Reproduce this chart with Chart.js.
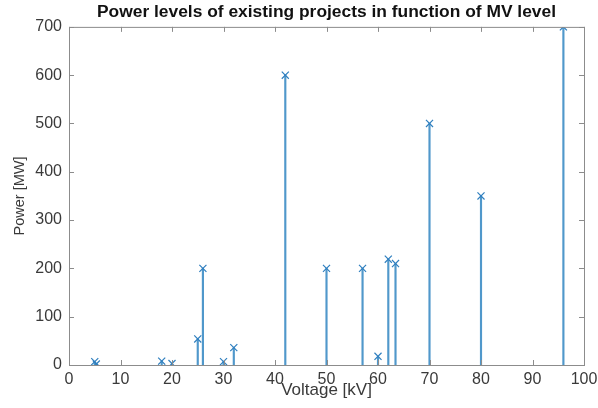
<!DOCTYPE html>
<html>
<head>
<meta charset="utf-8">
<script src="https://cdn.jsdelivr.net/npm/chart.js@4"></script>
<style>
  html, body { margin: 0; padding: 0; background: #fff; }
  #wrap { width: 598px; height: 408px; }
</style>
</head>
<body>
<div id="wrap"><canvas id="grafico" width="598" height="408"></canvas></div>
<script>
// voltage [kV] and power [MW] of each project
const voltagem = [5, 5.3, 18, 20, 25, 26, 30, 32, 42, 50, 57, 60, 62, 63.4, 70, 80, 96];
const potencia = [7, 2, 8, 3, 54, 200, 7, 36, 600, 200, 200, 18, 219, 210, 500, 350, 700];
const ticksX = [0, 100, 10];   // min, max, step
const ticksY = [0, 700, 100];

const pontos = voltagem.map((v, i) => ({ x: v, y: potencia[i] }));

const azul = '#2f7fbf';
const fonte = 'Liberation Sans, Arial, sans-serif';

// box around the plot with inward ticks, like matlab
const caixa = {
  id: 'caixa',
  afterDraw(chart) {
    const { ctx, chartArea: a, scales } = chart;
    ctx.save();
    ctx.strokeStyle = '#8c8c8c';
    ctx.lineWidth = 1;
    ctx.strokeRect(a.left + 0.5, a.top + 0.5, a.right - a.left, a.bottom - a.top);
    ctx.beginPath();
    scales.x.ticks.forEach(t => {
      const px = Math.round(scales.x.getPixelForValue(t.value)) + 0.5;
      ctx.moveTo(px, a.bottom); ctx.lineTo(px, a.bottom - 5);
      ctx.moveTo(px, a.top); ctx.lineTo(px, a.top + 5);
    });
    scales.y.ticks.forEach(t => {
      const py = Math.round(scales.y.getPixelForValue(t.value)) + 0.5;
      ctx.moveTo(a.left, py); ctx.lineTo(a.left + 5, py);
      ctx.moveTo(a.right, py); ctx.lineTo(a.right - 5, py);
    });
    ctx.stroke();
    ctx.restore();
  }
};

const ctx = document.getElementById("grafico").getContext("2d");
const chart = new Chart(ctx, {
  type: 'scatter',
  data: {
    datasets: [{
      type: 'bar',
      data: pontos,
      backgroundColor: '#5098cb',
      barThickness: 1.5,
      borderWidth: 0,
      order: 2
    }, {
      type: 'scatter',
      data: pontos,
      pointStyle: 'crossRot',
      pointRadius: 5,
      borderColor: azul,
      borderWidth: 1.2,
      order: 1
    }]
  },
  options: {
    responsive: false,
    animation: false,
    layout: { padding: { left: 0, right: 14, top: 0, bottom: 0 } },
    plugins: {
      legend: { display: false },
      tooltip: { enabled: false },
      title: {
        display: true,
        fullSize: false,
        text: 'Power levels of existing projects in function of MV level',
        color: '#111',
        font: { family: fonte, size: 17.4, weight: 'bold' },
        padding: { top: 2, bottom: 4 }
      }
    },
    scales: {
      x: {
        type: 'linear',
        offset: false,
        min: ticksX[0], max: ticksX[1],
        ticks: { stepSize: ticksX[2], color: '#3a3a3a', font: { family: fonte, size: 16 }, padding: 5, maxRotation: 0 },
        grid: { display: false, drawTicks: false },
        border: { display: false },
        title: { display: true, text: 'Voltage [kV]', color: '#3a3a3a', font: { family: fonte, size: 17 }, padding: { top: 0, bottom: 7 } },
        afterFit(s) { s.height = 43; s.paddingLeft = 0; s.paddingRight = 0; }
      },
      y: {
        min: ticksY[0], max: ticksY[1],
        ticks: { stepSize: ticksY[2], color: '#3a3a3a', font: { family: fonte, size: 16 }, padding: 7 },
        grid: { display: false, drawTicks: false },
        border: { display: false },
        title: { display: true, text: 'Power [MW]', color: '#3a3a3a', font: { family: fonte, size: 14.5 }, padding: { top: 11, bottom: 0 } },
        afterFit(s) { s.width = 69; }
      }
    }
  },
  plugins: [caixa]
});
</script>
</body>
</html>
